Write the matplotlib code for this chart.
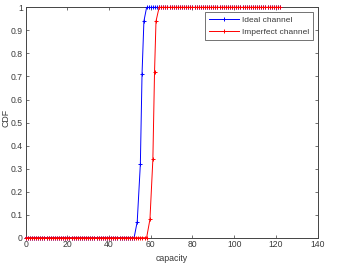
import matplotlib
matplotlib.use("Agg")
import matplotlib.pyplot as plt
import numpy as np

# Ideal channel: flat tail at 0, transition, flat tail at 1
ideal_low_x = list(range(0, 53))
ideal_trans_x = [53.5, 55.0, 55.8, 56.7]
ideal_trans_y = [0.07, 0.32, 0.71, 0.94]
ideal_high_x = list(range(58, 123))

# Imperfect channel
imp_low_x = list(range(0, 59))
imp_trans_x = [59.6, 61.0, 61.8, 62.5]
imp_trans_y = [0.08, 0.34, 0.72, 0.94]
imp_high_x = list(range(64, 123))

ideal_x = ideal_low_x + ideal_trans_x + ideal_high_x
ideal_y = [0.0] * len(ideal_low_x) + ideal_trans_y + [1.0] * len(ideal_high_x)
imp_x = imp_low_x + imp_trans_x + imp_high_x
imp_y = [0.0] * len(imp_low_x) + imp_trans_y + [1.0] * len(imp_high_x)

xticks = [0, 20, 40, 60, 80, 100, 120, 140]
yticks = [0, 0.1, 0.2, 0.3, 0.4, 0.5, 0.6, 0.7, 0.8, 0.9, 1]
ytick_labels = ["0", "0.1", "0.2", "0.3", "0.4", "0.5", "0.6", "0.7", "0.8", "0.9", "1"]

plt.rcParams['font.family'] = ['Liberation Sans', 'DejaVu Sans']

fig = plt.figure(figsize=(3.4, 2.64), dpi=100)
ax = fig.add_axes([0.0756, 0.0996, 0.8584, 0.8724])

txt = "#3a3a3a"
ax.plot(ideal_x, ideal_y, color="blue", marker="+", markersize=3.5, lw=0.7,
        mew=0.7, label="Ideal channel", clip_on=False, zorder=3)
ax.plot(imp_x, imp_y, color="red", marker="+", markersize=3.5, lw=0.7,
        mew=0.7, label="Imperfect channel", clip_on=False, zorder=3)

ax.set_xlim(0, 140)
ax.set_ylim(0, 1)
ax.set_xticks(xticks)
ax.set_yticks(yticks)
ax.set_yticklabels(ytick_labels)
ax.tick_params(direction="in", top=True, right=True, labelsize=6.2,
               length=2.5, width=0.5, colors=txt, pad=2)
for s in ax.spines.values():
    s.set_linewidth(0.7)
    s.set_color("#444444")

ax.set_xlabel("capacity", fontsize=6.3, color=txt, labelpad=3)
ax.set_ylabel("CDF", fontsize=6.3, color=txt)
ax.yaxis.set_label_coords(-0.052, 0.52)

leg = ax.legend(loc="upper right", fontsize=6, frameon=True, fancybox=False,
                edgecolor="#333333", borderpad=0.5, handlelength=3.6,
                labelspacing=0.55, borderaxespad=0.5, handletextpad=0.3)
leg.get_frame().set_linewidth(0.6)
for t in leg.get_texts():
    t.set_color(txt)

fig.savefig("out.png", dpi=100)
